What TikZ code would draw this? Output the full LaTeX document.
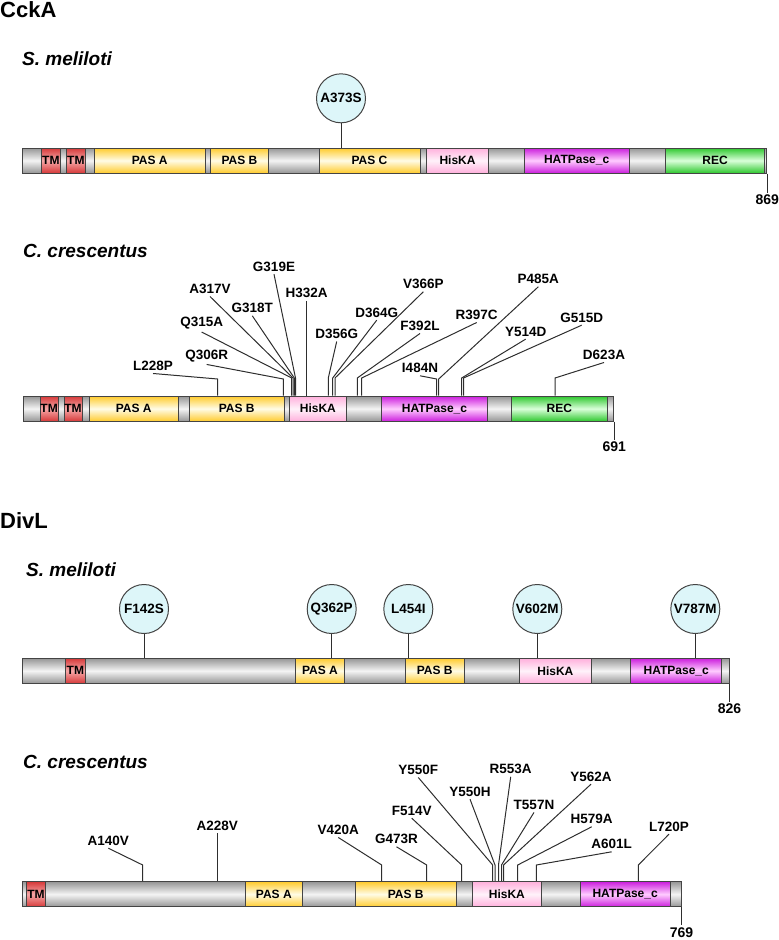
\documentclass[tikz,border=0pt]{standalone}
\usepackage{fontspec}
\setmainfont{Liberation Sans}
\usetikzlibrary{positioning}

\definecolor{edge}{HTML}{444444}
\definecolor{leader}{HTML}{2E2E2E}
\definecolor{bbE}{HTML}{969696}
\definecolor{bbM}{HTML}{F4F4F4}
\definecolor{tmE}{HTML}{D63A3A}
\definecolor{tmM}{HTML}{F6A8A8}
\definecolor{pasE}{HTML}{FFCB2E}
\definecolor{pasM}{HTML}{FFFCE6}
\definecolor{hisE}{HTML}{FFB0DC}
\definecolor{hisM}{HTML}{FFF2FA}
\definecolor{hatE}{HTML}{CC1FDD}
\definecolor{hatM}{HTML}{FFCCFF}
\definecolor{recE}{HTML}{2FC82F}
\definecolor{recM}{HTML}{DAFFDA}
\definecolor{bubble}{HTML}{DDF6F9}

\tikzset{
  dom/.style={draw=edge, line width=1pt, inner sep=0pt, minimum height=25pt,
    top color=#1E, bottom color=#1E, middle color=#1M,
    font=\fontsize{12}{14}\selectfont\bfseries},
  mut/.style={font=\fontsize{13.5}{16}\selectfont\bfseries, inner sep=2.5pt},
  bubblemut/.style={circle, draw=edge, line width=1pt, fill=bubble, minimum size=49pt,
    inner sep=0pt, font=\fontsize{13.5}{16}\selectfont\bfseries},
  stem/.style={draw=leader, line width=1pt},
  num/.style={font=\fontsize{14}{16}\selectfont\bfseries, inner sep=2pt},
  title/.style={font=\fontsize{22}{26}\selectfont\bfseries, anchor=west, inner sep=0pt},
  species/.style={font=\fontsize{19}{22}\selectfont\bfseries\itshape, anchor=west, inner sep=0pt}
}

\begin{document}
\begin{tikzpicture}[x=1pt, y=-1pt]
\useasboundingbox (0,0) rectangle (779,940);

% CckA
\node[title] (cckA) at (0,10) {CckA};
\node[species] (ckSmName) at (22,59) {S. meliloti};
\node[dom=bb, minimum width=744pt] (ckSm) at (394.7,160.5) {};
\foreach \a/\b/\dc/\t [count=\i] in {41.7/60/tm/TM, 66.7/85/tm/TM, 94.3/205/pas/PAS A,
    210.7/268.3/pas/PAS B, 319/420/pas/PAS C, 426.7/488.3/his/HisKA,
    524/629.3/hat/HATPase\_c, 665.7/764.3/rec/REC}
  \node[dom=\dc, minimum width={(\b-\a)*1pt}] (ckSm\i) at ({(\a+\b)/2},160.5) {\t};
\node[bubblemut] (A373S) at (341,98.3) {A373S};
\draw[stem] (A373S) -- (A373S |- ckSm.north);
\node[num, below=19pt of ckSm.south east] (n869) {869};
\draw[stem] (ckSm.south east) -- (n869);

\node[species] (ckCcName) at (23,251) {C. crescentus};
\node[dom=bb, minimum width=590.4pt] (ckCc) at (318.5,408.7) {};
\foreach \a/\b/\dc/\t [count=\i] in {40/58.3/tm/TM, 64/82/tm/TM, 89.3/178/pas/PAS A,
    189.3/284/pas/PAS B, 289.7/346/his/HisKA, 381.3/487.7/hat/HATPase\_c,
    511/607.7/rec/REC}
  \node[dom=\dc, minimum width={(\b-\a)*1pt}] (ckCc\i) at ({(\a+\b)/2},408.7) {\t};
\foreach \m/\lx/\ly/\ex/\ey in {L228P/153/366/217.7/379, Q306R/206.7/355.7/283.3/379,
    Q315A/201.7/323.3/291.7/378, A317V/210/289/293/378, G318T/252.3/308.3/294.3/378,
    G319E/274/266.7/295.5/378, H332A/306.7/293.3/306.7/378, D356G/336.7/334/328.3/378,
    D364G/376.7/312.7/332.7/378, V366P/423.3/284.3/335/378, F392L/420/326/357.3/378,
    R397C/476.7/315/361.7/378, I484N/420/368.3/436.7/379, P485A/538.3/279.3/438.7/379,
    Y514D/525.7/331.7/461.7/378, G515D/581.7/317.7/463.5/378, D623A/604/355/555/378}
{
  \node[mut] (\m) at (\lx,\ly) {\m};
  \coordinate (k\m) at (\ex,\ey);
  \draw[stem] (\m.south) -- (k\m) -- (k\m |- ckCc.north);
}
\node[num, below=18pt of ckCc.south east] (n691) {691};
\draw[stem] (ckCc.south east) -- (n691);

% DivL
\node[title] (divL) at (0,520.5) {DivL};
\node[species] (dvSmName) at (26,570) {S. meliloti};
\node[dom=bb, minimum width=706.3pt] (dvSm) at (375.85,670.8) {};
\foreach \a/\b/\dc/\t [count=\i] in {65.7/85/tm/TM, 295.7/344.3/pas/PAS A,
    405/464.3/pas/PAS B, 519.7/591/his/HisKA, 630.7/721.7/hat/HATPase\_c}
  \node[dom=\dc, minimum width={(\b-\a)*1pt}] (dvSm\i) at ({(\a+\b)/2},670.8) {\t};
\foreach \m/\x in {F142S/144, Q362P/331.7, L454I/408.3, V602M/537.3, V787M/695.3}
{
  \node[bubblemut] (\m) at (\x,609) {\m};
  \draw[stem] (\m) -- (\m |- dvSm.north);
}
\node[num, below=18pt of dvSm.south east] (n826) {826};
\draw[stem] (dvSm.south east) -- (n826);

\node[species] (dvCcName) at (23,761.5) {C. crescentus};
\node[dom=bb, minimum width=658.3pt] (dvCc) at (351.85,894.2) {};
\foreach \a/\b/\dc/\t [count=\i] in {26.7/45.3/tm/TM, 245/302.7/pas/PAS A,
    355.3/456/pas/PAS B, 472.7/541/his/HisKA, 580.3/670/hat/HATPase\_c}
  \node[dom=\dc, minimum width={(\b-\a)*1pt}] (dvCc\i) at ({(\a+\b)/2},894.2) {\t};
\foreach \m/\lx/\ly/\ex/\ey in {A140V/108.3/840.7/142.7/865, A228V/217.3/826/217.3/865,
    V420A/338.3/830/381.7/865, G473R/396.5/839.3/426.7/865, F514V/411.7/810.7/461.7/865,
    Y550F/418.3/770/492.7/865, Y550H/470/791.7/495/865, R553A/510.7/769.3/498.5/865,
    T557N/534/805/501.5/865, Y562A/591/776.7/503.5/865, H579A/591.7/819.3/517.7/865,
    A601L/611.7/844.3/536.3/865, L720P/669/826.7/638.3/865}
{
  \node[mut] (\m) at (\lx,\ly) {\m};
  \coordinate (k\m) at (\ex,\ey);
  \draw[stem] (\m.south) -- (k\m) -- (k\m |- dvCc.north);
}
\node[num, below=18pt of dvCc.south east] (n769) {769};
\draw[stem] (dvCc.south east) -- (n769);
\end{tikzpicture}
\end{document}
